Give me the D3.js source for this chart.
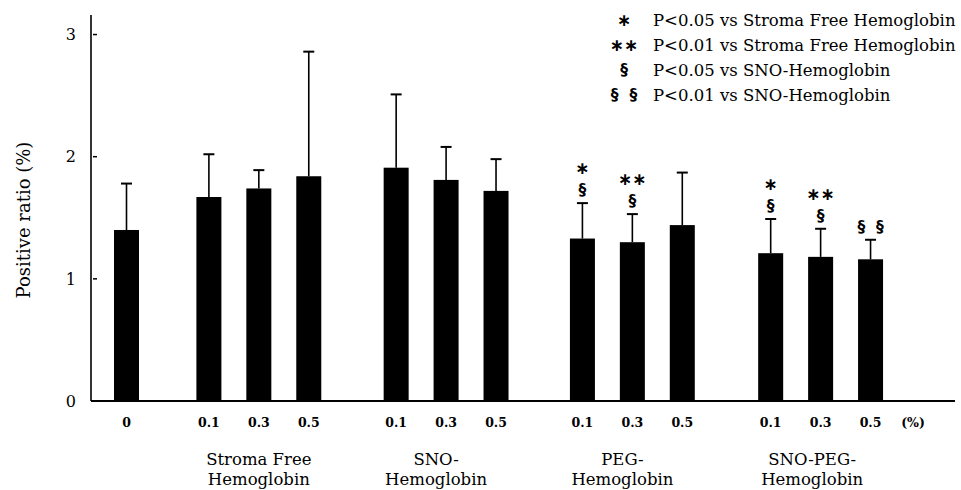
<!DOCTYPE html>
<html>
<head>
<meta charset="utf-8">
<script src="https://cdn.jsdelivr.net/npm/d3@7"></script>
<style>
  body { margin: 0; background: #fff; }
</style>
</head>
<body>
<div id="chart"></div>
<script>
// Values
const doseLabels = ['0', '0.1', '0.3', '0.5', '0.1', '0.3', '0.5', '0.1', '0.3', '0.5', '0.1', '0.3', '0.5'];
const barGroup = [0, 1, 1, 1, 2, 2, 2, 3, 3, 3, 4, 4, 4];
const means = [1.40, 1.67, 1.74, 1.84, 1.91, 1.81, 1.72, 1.33, 1.30, 1.44, 1.21, 1.18, 1.16];
const errors = [0.38, 0.35, 0.15, 1.02, 0.60, 0.27, 0.26, 0.29, 0.23, 0.43, 0.28, 0.23, 0.16];
const starMarks = ['', '', '', '', '', '', '', '*', '**', '', '*', '**', ''];
const sectMarks = ['', '', '', '', '', '', '', '§', '§', '', '§', '§', '§ §'];
const groupLabels = [['Stroma Free', 'Hemoglobin'], ['SNO-', 'Hemoglobin'], ['PEG-', 'Hemoglobin'], ['SNO-PEG-', 'Hemoglobin']];
const yTicks = [0, 1, 2, 3];
const legendSymbols = ['*', '**', '§', '§ §'];
const legendTexts = [
    'P<0.05 vs Stroma Free Hemoglobin',
    'P<0.01 vs Stroma Free Hemoglobin',
    'P<0.05 vs SNO-Hemoglobin',
    'P<0.01 vs SNO-Hemoglobin'
];

const width = 961, height = 490;
const serif = '"DejaVu Serif", serif';
const sans = '"DejaVu Sans", sans-serif';

// layout: slot where each group starts (control sits at 0)
const groupStart = [0, 1.65, 5.4, 9.13, 12.9];
const labelShift = [0, 0, -0.2, -0.2, -0.17];
const unitSlot = 15.75; // position of the "(%)" label

const svg = d3.select('#chart').append('svg')
    .attr('width', width)
    .attr('height', height);

const x = d3.scaleLinear().domain([0, unitSlot]).range([126.5, 913]);
const y = d3.scaleLinear().domain([0, 3.16]).range([401, 15]);

// slot for every bar
const slots = barGroup.map((g, i) => {
    const first = barGroup.indexOf(g);
    return groupStart[g] + (i - first);
});

const bars = means.map((m, i) => ({ mean: m, err: errors[i], slot: slots[i], label: doseLabels[i], star: starMarks[i], sect: sectMarks[i] }));
const barW = 25;

// Bars
svg.selectAll('.bar')
    .data(bars)
    .enter().append('rect')
    .attr('class', 'bar')
    .attr('x', d => x(d.slot) - barW / 2)
    .attr('y', d => y(d.mean))
    .attr('width', barW)
    .attr('height', d => y(0) - y(d.mean))
    .attr('fill', '#000');

// Error bars (upper only)
const eb = svg.append('g').attr('class', 'errors');
bars.forEach(d => {
    const cx = x(d.slot);
    eb.append('line')
        .attr('x1', cx).attr('x2', cx)
        .attr('y1', y(d.mean)).attr('y2', y(d.mean + d.err))
        .attr('stroke', '#000').attr('stroke-width', 1.6);
    eb.append('line')
        .attr('x1', cx - 5.5).attr('x2', cx + 5.5)
        .attr('y1', y(d.mean + d.err)).attr('y2', y(d.mean + d.err))
        .attr('stroke', '#000').attr('stroke-width', 2);
});

// star and section symbols (asterisk operator sits centred, so its box stays tight)
function addStar(sel, cx, cy, s) {
    return sel.append('text')
        .attr('x', cx).attr('y', cy + 5)
        .attr('text-anchor', 'middle')
        .attr('font-family', sans).attr('font-weight', 'bold')
        .attr('font-size', '17px')
        .text(s.replace(/\*/g, '\u2217'));
}
function addSect(sel, cx, cy, s) {
    return sel.append('text')
        .attr('x', cx).attr('y', cy + 5)
        .attr('text-anchor', 'middle')
        .attr('font-family', sans).attr('font-weight', 'bold')
        .attr('font-size', '15.5px')
        .attr('xml:space', 'preserve')
        .text(s.replace(' ', '  '));
}

// Significance marks
bars.forEach(d => {
    const cx = x(d.slot);
    const top = y(d.mean + d.err);
    if (d.sect) addSect(svg, cx, top - 13, d.sect);
    if (d.star) addStar(svg, cx, top - 34, d.star);
});

// Y axis
const yAxis = svg.append('g').attr('class', 'y-axis');
yAxis.append('line')
    .attr('x1', 91).attr('x2', 91)
    .attr('y1', y.range()[1]).attr('y2', y(0))
    .attr('stroke', '#000').attr('stroke-width', 1.6);

yTicks.forEach(t => {
    if (t > 0) {
        yAxis.append('line')
            .attr('x1', 93).attr('x2', 97)
            .attr('y1', y(t)).attr('y2', y(t))
            .attr('stroke', '#000').attr('stroke-width', 1.5);
    }
    yAxis.append('text')
        .attr('x', 76)
        .attr('y', y(t))
        .attr('dy', '0.36em')
        .attr('text-anchor', 'end')
        .attr('font-family', serif)
        .attr('font-size', '16px')
        .text(t);
});

svg.append('text')
    .attr('transform', 'rotate(-90)')
    .attr('x', -220)
    .attr('y', 30)
    .attr('text-anchor', 'middle')
    .attr('font-family', serif)
    .attr('font-size', '18px')
    .text('Positive ratio (%)');

// X axis
svg.append('line')
    .attr('x1', 91).attr('x2', 955)
    .attr('y1', y(0)).attr('y2', y(0))
    .attr('stroke', '#000').attr('stroke-width', 2);

svg.selectAll('.dose')
    .data(bars)
    .enter().append('text')
    .attr('class', 'dose')
    .attr('x', d => x(d.slot))
    .attr('y', 427)
    .attr('text-anchor', 'middle')
    .attr('font-family', serif)
    .attr('font-weight', 'bold')
    .attr('font-size', '12.5px')
    .text(d => d.label);

svg.append('text')
    .attr('x', x(unitSlot))
    .attr('y', 427)
    .attr('text-anchor', 'middle')
    .attr('font-family', serif)
    .attr('font-weight', 'bold')
    .attr('font-size', '12.5px')
    .text('(%)');

// Group labels
groupLabels.forEach((lines, i) => {
    const g = i + 1;
    const cx = x(groupStart[g] + 1 + labelShift[g]);
    lines.forEach((txt, j) => {
        svg.append('text')
            .attr('x', cx)
            .attr('y', 465 + j * 20)
            .attr('text-anchor', 'middle')
            .attr('font-family', serif)
            .attr('font-size', '16.5px')
            .text(txt);
    });
});

// Legend
legendTexts.forEach((txt, i) => {
    const by = 26 + i * 25;
    const sym = legendSymbols[i];
    if (sym.indexOf('*') >= 0) addStar(svg, 624, by - 5, sym);
    else addSect(svg, 624, by - 6, sym);
    svg.append('text')
        .attr('x', 653)
        .attr('y', by)
        .attr('font-family', serif)
        .attr('font-size', '16.5px')
        .text(txt);
});
</script>
</body>
</html>
